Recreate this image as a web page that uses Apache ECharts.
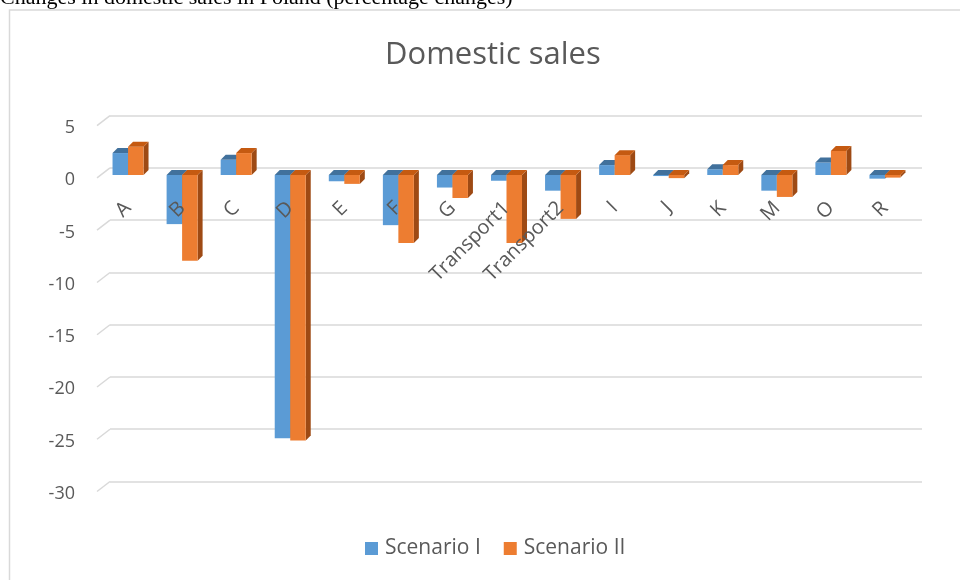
<!DOCTYPE html>
<html>
<head>
<meta charset="utf-8">
<script src="https://cdn.jsdelivr.net/npm/echarts@6/dist/echarts.min.js"></script>
<style>
html,body{margin:0;padding:0;background:#fff;}
#chart{width:960px;height:580px;}
</style>
</head>
<body>
<div id="chart"></div>
<script>
const categories = ['A','B','C','D','E','F','G','Transport1','Transport2','I','J','K','M','O','R'];
const scenario1 = [2.1, -4.7, 1.45, -25.2, -0.6, -4.8, -1.2, -0.55, -1.5, 0.95, -0.1, 0.55, -1.5, 1.2, -0.35];
const scenario2 = [2.7, -8.2, 2.1, -25.4, -0.85, -6.5, -2.2, -6.5, -4.2, 1.9, -0.3, 0.95, -2.1, 2.3, -0.25];
const yTicks = [5, 0, -5, -10, -15, -20, -25, -30];
const seriesNames = ['Scenario I', 'Scenario II'];

const BAR_W = 15.5, DEPTH = 5;
const FONT = '"Open Sans", "Noto Sans", sans-serif';
const TXT = '#595959';
const GRIDC = '#d9d9d9';

function bar3D(side, front, top, sideC) {
  return function (params, api) {
    const idx = api.value(0), v = api.value(1);
    const c0 = api.coord([idx, 0]);
    const c1 = api.coord([idx, v]);
    const x0 = side < 0 ? c0[0] - BAR_W : c0[0];
    const x1 = x0 + BAR_W;
    const yT = Math.min(c0[1], c1[1]);
    const yB = Math.max(c0[1], c1[1]);
    const d = DEPTH;
    return {
      type: 'group',
      children: [
        {type: 'polygon', shape: {points: [[x1, yT], [x1 + d, yT - d], [x1 + d, yB - d], [x1, yB]]}, style: {fill: sideC}},
        {type: 'rect', shape: {x: x0, y: yT, width: BAR_W, height: yB - yT}, style: {fill: front}},
        {type: 'polygon', shape: {points: [[x0, yT], [x1, yT], [x1 + d, yT - d], [x0 + d, yT - d]]}, style: {fill: top}}
      ]
    };
  };
}

const chart = echarts.init(document.getElementById('chart'), null, {renderer: 'canvas'});
const option = {
  backgroundColor: '#fff',
  animation: false,
  title: {
    text: 'Domestic sales', left: 380, top: 35,
    textStyle: {fontFamily: FONT, fontSize: 31, fontWeight: 'normal', color: TXT}
  },
  graphic: [
    {type: 'rect', shape: {x: 9.5, y: 10, width: 980, height: 600}, style: {fill: 'none', stroke: GRIDC, lineWidth: 1.5}, z: -1},
    {type: 'text', x: 0, y: 9, style: {text: 'Changes in domestic sales in Poland (percentage changes)', font: '22px "Liberation Serif", serif', fill: '#000', textVerticalAlign: 'bottom'}}
  ],
  legend: {
    left: 365, top: 538, padding: 0,
    itemWidth: 13, itemHeight: 13, itemGap: 23,
    icon: 'rect',
    data: seriesNames,
    textStyle: {fontFamily: FONT, fontSize: 21, color: TXT, padding: [0, 0, 0, 2]}
  },
  grid: [
    {left: 101, width: 811, top: 122.75, height: 365.75},
    {left: 110, right: 38, top: 115.7, height: 365.8},
    {left: 78, width: 800, top: 128, height: 365.8},
    {left: 101, width: 811, top: 100, height: 75}
  ],
  xAxis: [
    {gridIndex: 0, type: 'category', data: categories, show: false},
    {gridIndex: 1, type: 'value', min: 0, max: 1, show: false},
    {gridIndex: 2, type: 'value', min: 0, max: 1, show: false},
    {
      gridIndex: 3, type: 'category', data: categories, position: 'bottom', z: 20,
      axisLine: {show: false}, axisTick: {show: false},
      axisLabel: {rotate: 45, margin: 30, interval: 0, fontFamily: FONT, fontSize: 20, color: TXT},
      splitLine: {show: false}
    }
  ],
  yAxis: [
    {gridIndex: 0, type: 'value', min: -30, max: 5, interval: 5, show: false, splitLine: {show: false}},
    {gridIndex: 1, type: 'value', min: -30, max: 5, interval: 5,
      axisLine: {show: false}, axisTick: {show: false}, axisLabel: {show: false},
      splitLine: {show: true, lineStyle: {color: GRIDC, width: 1.5}}},
    {gridIndex: 2, type: 'value', min: -30, max: 5, interval: 5,
      axisLine: {show: false}, axisTick: {show: false}, splitLine: {show: false},
      axisLabel: {margin: 3, fontFamily: FONT, fontSize: 18, color: TXT}},
    {gridIndex: 3, type: 'value', min: 0, max: 1, show: false}
  ],
  series: [
    {
      type: 'custom', name: 'diag', xAxisIndex: 1, yAxisIndex: 1, silent: true,
      data: yTicks.map(t => [0, t]),
      renderItem: function (params, api) {
        const p = api.coord([0, api.value(1)]);
        return {type: 'line', shape: {x1: p[0] - 13, y1: p[1] + 10, x2: p[0], y2: p[1]}, style: {stroke: GRIDC, lineWidth: 1.5}};
      }
    },
    {
      type: 'custom', name: seriesNames[0], xAxisIndex: 0, yAxisIndex: 0,
      itemStyle: {color: '#5B9BD5'},
      data: scenario1.map((v, i) => [i, v]),
      renderItem: bar3D(-1, '#5B9BD5', '#41719C', '#3A6A96'),
      z: 3
    },
    {
      type: 'custom', name: seriesNames[1], xAxisIndex: 0, yAxisIndex: 0,
      itemStyle: {color: '#ED7D31'},
      data: scenario2.map((v, i) => [i, v]),
      renderItem: bar3D(1, '#ED7D31', '#C55A11', '#9E4A14'),
      z: 4
    }
  ]
};
chart.setOption(option);
</script>
</body>
</html>
